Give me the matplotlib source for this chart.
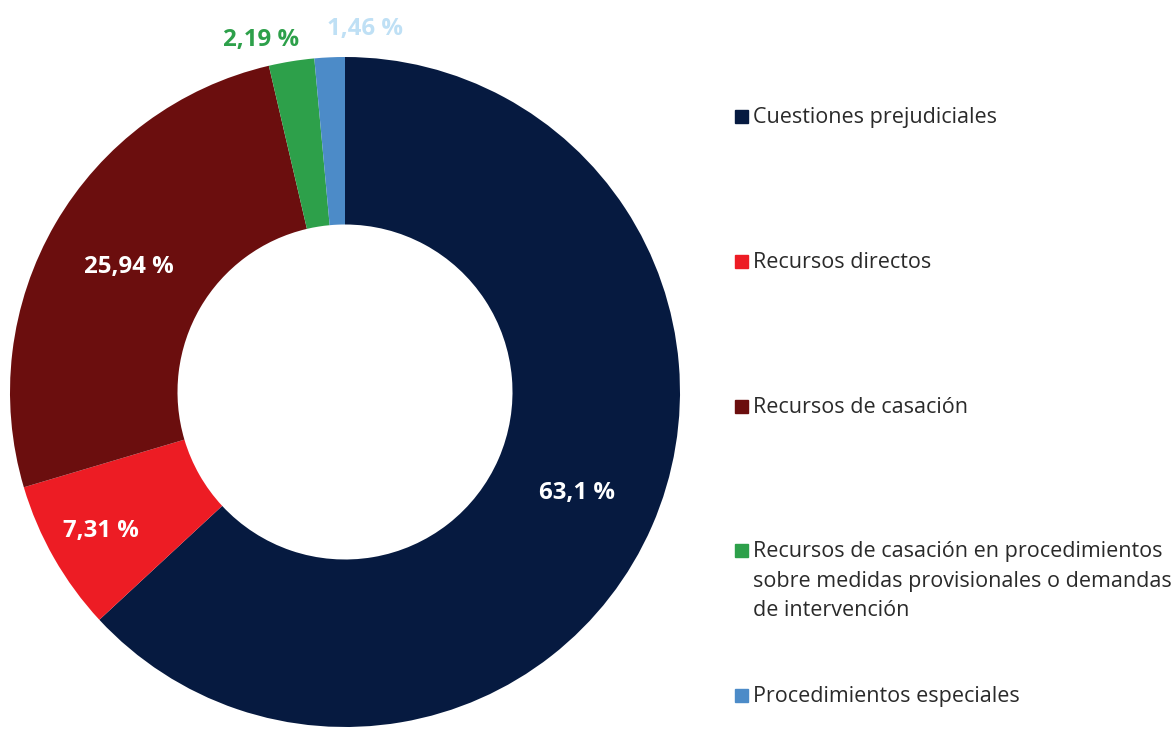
import numpy as np
import matplotlib
matplotlib.use("Agg")
from matplotlib import pyplot as plt
from matplotlib.patches import Rectangle

plt.rcParams['font.family'] = ['Open Sans', 'DejaVu Sans']

categories = ["Cuestiones prejudiciales",
              "Recursos directos",
              "Recursos de casación",
              "Recursos de casación en procedimientos\nsobre medidas provisionales o demandas\nde intervención",
              "Procedimientos especiales"]
values = [63.1, 7.31, 25.94, 2.19, 1.46]
pct_labels = ["63,1 %", "7,31 %", "25,94 %", "2,19 %", "1,46 %"]
colors = ["#061a40", "#ed1c24", "#6b0e0e", "#2da04a", "#4c8bc8"]
label_colors = ["white", "white", "white", "#2da04a", "#bfe0f5"]

W, H = 1173, 729
fig = plt.figure(figsize=(W / 100, H / 100), dpi=100)

# donut axes in pixel terms
cx, cy, r = 345, 392, 335
ax = fig.add_axes([(cx - r) / W, (H - cy - r) / H, 2 * r / W, 2 * r / H])
wedges, _ = ax.pie(values, colors=colors, startangle=90, counterclock=False,
                   radius=1, wedgeprops=dict(width=0.5, linewidth=0))
ax.set_xlim(-1, 1)
ax.set_ylim(-1, 1)
ax.axis("off")

# label placement: radius and small x shift for each slice
lab_r = [0.755, 0.84, 0.745, 1.065, 1.085]
lab_dx = [0.0, 0.0, 0.0, -0.08, 0.11]
for w, txt, lc, rr, dx in zip(wedges, pct_labels, label_colors, lab_r, lab_dx):
    ang = np.deg2rad((w.theta1 + w.theta2) / 2)
    ax.text(rr * np.cos(ang) + dx, rr * np.sin(ang), txt, color=lc,
            fontsize=17.3, fontweight="bold", ha="center", va="center",
            clip_on=False)

# legend drawn by hand
line_px = 29.5
for i, (cat, col) in enumerate(zip(categories, colors)):
    yb = 123 + i * 144.8
    fig.patches.append(Rectangle((735 / W, (H - yb) / H), 13 / W, 13 / H,
                                 transform=fig.transFigure, color=col))
    # baseline alignment follows the last line for multi-line text
    nl = cat.count("\n")
    fig.text(753 / W, (H - yb - nl * line_px) / H, cat, fontsize=15.5,
             color="#2a2a2a", ha="left", va="baseline", linespacing=1.53)

fig.savefig("out.png", dpi=100)
